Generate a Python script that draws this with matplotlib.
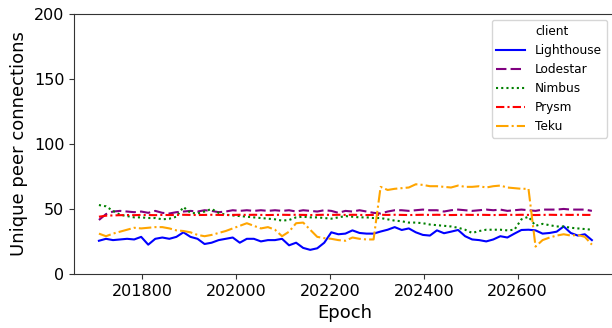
import numpy as np
import matplotlib
matplotlib.use("Agg")
import matplotlib.pyplot as plt

# Epochs sampled every 15 epochs
epochs = np.arange(201708, 202759, 15)

lighthouse = [25.5, 27, 26, 26.5, 27, 26.5, 28.5, 22.5, 27, 28, 27, 28.5, 32, 28.5, 27,
              23, 24, 26, 27, 28, 24, 27, 27, 25, 26, 26, 27, 22, 24, 20,
              18.5, 19.7, 24, 32, 30.5, 31, 33.5, 31.5, 31, 31, 32.6, 34, 36, 33.8, 35,
              32, 30, 29.5, 33.5, 31.3, 32.5, 33.8, 29, 26.5, 26, 25, 26.5, 29, 28, 31,
              33.8, 34, 33.5, 31, 31.5, 32.5, 36.5, 31.5, 29.5, 30.5, 26]

lodestar = [41.5, 46, 48, 48.5, 48, 47.5, 48, 47, 48.5, 47, 46.5, 47.5, 48, 48.5, 48,
            49, 48.5, 47.5, 48, 49, 48.5, 49, 48.5, 49, 48.5, 49, 48.5, 49, 48, 49,
            48.5, 48, 49, 48.5, 47, 48.5, 48, 49, 48, 47, 46.5, 48, 49, 49, 48.5,
            49, 49.5, 49, 49, 48, 49, 49.5, 49, 48.5, 49, 49.5, 49, 49.5, 48.5, 49,
            49.5, 49, 48.5, 49.5, 49.5, 49.5, 50, 49.5, 49.5, 49.5, 48.5]

nimbus = [53, 52, 48.5, 45.5, 44.5, 43.5, 43.5, 43, 43, 42, 42.5, 44, 51.5, 47, 46.5,
          48, 50, 47, 45.5, 45, 44.5, 44, 43.5, 43, 42.5, 42, 41, 41.5, 43.5, 44,
          43.5, 43.5, 43, 42.5, 43.5, 44.5, 44, 43.5, 43.5, 43, 43, 42, 41, 40.5, 39.5,
          39.5, 39, 38, 37.5, 37, 36.5, 35.5, 34, 31.5, 33, 34, 34, 34, 33.5, 34,
          42, 44, 37, 38.5, 37.5, 36.5, 36.5, 35.5, 35, 34.5, 34]

prysm = [44, 44.8, 45, 45.2, 45.3, 45.2, 45.4, 45.3, 45.2, 45.4, 45.3, 45.4, 45.5, 45.4, 45.3,
         45.4, 45.5, 45.4, 45.3, 45.4, 45.5, 45.4, 45.5, 45.4, 45.3, 45.4, 45.5, 45.4, 45.5, 45.4,
         45.3, 45.4, 45.5, 45.4, 45.5, 45.4, 45.5, 45.4, 45.3, 45.4, 45.5, 45.4, 45.5, 45.4, 45.3,
         45.4, 45.5, 45.4, 45.5, 45.4, 45.3, 45.4, 45.5, 45.4, 45.5, 45.4, 45.3, 45.4, 45.5, 45.4,
         45.5, 45.4, 45.3, 45.4, 45.5, 45.4, 45.5, 45.4, 45.5, 45.4, 45.4]

teku = [31, 29, 31, 32.5, 34, 35.5, 35, 35.5, 36, 36, 35, 33.5, 33, 32, 30,
        29, 30, 31.5, 33, 35, 37, 39, 37, 35, 36, 34, 29, 32.5, 39, 39.5,
        34, 28.5, 27.5, 27, 26, 25.5, 28, 27, 26.5, 26.5, 67, 64.6, 65.5, 66, 66.5,
        69, 68.5, 67.5, 67.5, 67, 66.5, 68, 67, 67, 67.5, 66.5, 67.5, 68, 66.5, 66,
        65.5, 65.5, 21, 26, 28, 29.5, 30.5, 29.5, 30, 28.5, 22.5]

clients = ["Lighthouse", "Lodestar", "Nimbus", "Prysm", "Teku"]
series = [lighthouse, lodestar, nimbus, prysm, teku]
colors = ["#0000ff", "#800080", "#008000", "#ff0000", "#ffa500"]
styles = ["-", (0, (5.0, 2.0)), (0, (1.0, 1.5)), (0, (4.0, 1.5, 1.0, 1.5)), (0, (6.0, 1.5, 1.0, 1.5))]

fig = plt.figure(figsize=(6.12, 3.28), dpi=100)
ax = fig.add_axes([0.121, 0.165, 0.886, 0.792])

for name, vals, c, ls in zip(clients, series, colors, styles):
    ax.plot(epochs, vals, color=c, linestyle=ls, linewidth=1.5, label=name)

ax.set_xlim(201655, 202810)
ax.set_ylim(0, 200)
ax.set_xticks([201800, 202000, 202200, 202400, 202600])
ax.set_yticks([0, 50, 100, 150, 200])
ax.tick_params(labelsize=11.5, color="#333333")
ax.set_xlabel("Epoch", fontsize=13)
ax.set_ylabel("Unique peer connections", fontsize=13)
for s in ax.spines.values():
    s.set_color("#333333")
ax.spines["right"].set_visible(False)

handles, labels = ax.get_legend_handles_labels()
blank = plt.Line2D([], [], linestyle="none")
leg = ax.legend([blank] + handles, ["client"] + labels, fontsize=8.7,
                loc="upper right", bbox_to_anchor=(607 / 612, 1 - 20 / 328),
                bbox_transform=fig.transFigure, borderaxespad=0, handlelength=2.4,
                frameon=True)

fig.savefig("out.png", dpi=100)
